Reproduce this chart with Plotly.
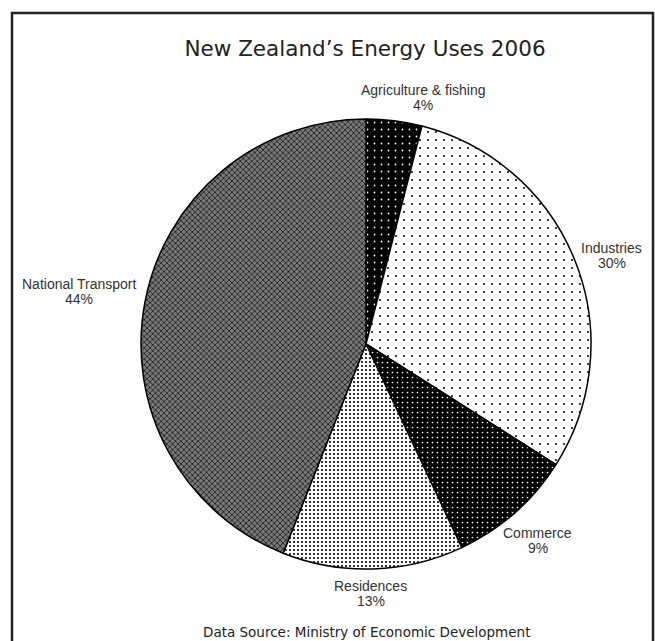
import math
import plotly.graph_objects as go

# ---- data ----
categories = ["Agriculture & fishing", "Industries", "Commerce", "Residences", "National Transport"]
values = [4, 30, 9, 13, 44]

# ---- style ----
W, H = 655, 641
CX, CY, R = 366, 344, 225  # pie centre / radius in pixels
bg_colors = ["black", "white", "black", "white", "#7a7a7a"]
fg_colors = ["white", "black", "white", "black", "black"]
shapes = [".", ".", ".", ".", "x"]
sizes = [7, 8, 5, 4, 4]
solid = [0.05, 0.05, 0.09, 0.22, 0.3]
# label distance from centre (px) and small nudges
label_dist = [250, 261, 260, 250, 292]
label_nudge = [(26, 2), (3, 8), (0, 1), (-3, 0), (0, 2)]
LINE_GAP = 15

fig = go.Figure()
fig.add_trace(go.Pie(
    labels=categories,
    values=values,
    sort=False,
    direction="clockwise",
    rotation=0,
    textinfo="none",
    hoverinfo="label+percent",
    showlegend=False,
    marker=dict(
        colors=bg_colors,
        line=dict(color="black", width=1.5),
        pattern=dict(shape=shapes, bgcolor=bg_colors, fgcolor=fg_colors,
                     size=sizes, solidity=solid, fillmode="replace"),
    ),
    domain=dict(x=[(CX - R) / W, (CX + R) / W], y=[1 - (CY + R) / H, 1 - (CY - R) / H]),
))

# labels positioned from slice mid-angles
total = sum(values)
cum = 0
lab_font = dict(family="Liberation Sans, Arial", size=14, color="#333")
for i, (lab, v) in enumerate(zip(categories, values)):
    mid = (cum + v / 2) / total * 2 * math.pi
    cum += v
    d = label_dist[i]
    px = CX + d * math.sin(mid) + label_nudge[i][0]
    py = CY - d * math.cos(mid) + label_nudge[i][1]
    pct = round(v / total * 100)
    for txt, off in ((lab, -LINE_GAP / 2), (f"{pct}%", LINE_GAP / 2)):
        fig.add_annotation(
            x=px / W, y=1 - (py + off) / H, xref="paper", yref="paper",
            text=txt, showarrow=False,
            xanchor="center", yanchor="middle",
            font=lab_font,
        )

fig.add_annotation(
    x=366 / W, y=1 - 632 / H, xref="paper", yref="paper",
    text="Data Source: Ministry of Economic Development", showarrow=False,
    xanchor="center", yanchor="middle",
    font=dict(family="DejaVu Sans", size=13.5, color="#222"),
)

# frame
fig.add_shape(type="rect", xref="paper", yref="paper",
              x0=12 / W, x1=653 / W, y0=-0.1, y1=1 - 13 / H,
              line=dict(color="#222", width=2.5), fillcolor="rgba(0,0,0,0)")

fig.update_layout(
    width=W, height=H,
    margin=dict(l=0, r=0, t=0, b=0),
    paper_bgcolor="white", plot_bgcolor="white",
    title=dict(text="New Zealand\u2019s Energy Uses 2006", x=365 / W, y=1 - 48 / H,
               xanchor="center", yanchor="middle",
               font=dict(family="DejaVu Sans", size=21.5, color="#222")),
)

fig.write_html("out.html")
